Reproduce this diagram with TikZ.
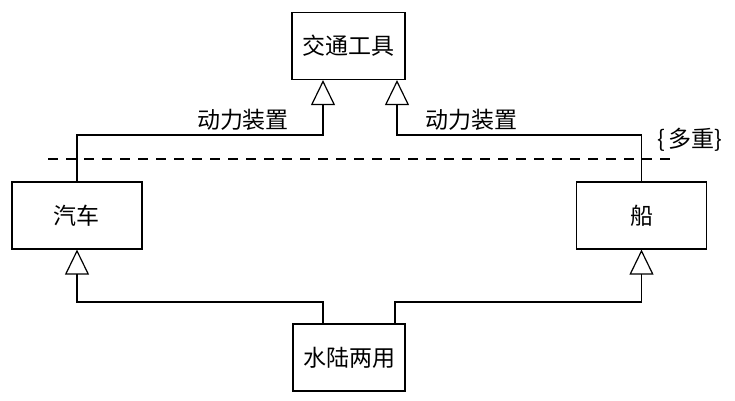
\documentclass[tikz,border=0pt]{standalone}
\usepackage{fontspec}
\newfontfamily\cjk{Noto Sans CJK SC}
\usetikzlibrary{arrows.meta}

\begin{document}
\begin{tikzpicture}[
  x=0.5pt, y=-0.5pt,
  font=\cjk\fontsize{11.5}{13.5}\selectfont,
  box/.style={draw, rectangle, line width=0.6pt, minimum height=33.5pt, align=center, fill=white},
  inherit/.style={line width=0.6pt, -{Triangle[open, length=12.5pt, width=12pt]}},
  link/.style={line width=0.6pt}
]
\useasboundingbox (0,0) rectangle (735,401);

\node[box, minimum width=56.5pt] (vehicle) at (348.5,46) {交通工具};
\node[box, minimum width=65pt] (car) at (77,215.5) {汽车};
\node[box, minimum width=65pt] (boat) at (641.5,215.5) {船};
\node[box, minimum width=56pt] (amphi) at (349,357.5) {水陆两用};

\coordinate (lbend) at (323,135);
\coordinate (rbend) at (397,135);
\coordinate (lfoot) at (323,302);
\coordinate (rfoot) at (395,302);

% upper level: power source
\draw[inherit] (car.north) |- (lbend) -- (lbend |- vehicle.south);
\draw[inherit] (boat.north) |- (rbend) -- (rbend |- vehicle.south);
\node (lpower) at (243,120) {动力装置};
\node (rpower) at (471,120) {动力装置};

% lower level
\draw[inherit] (lfoot |- amphi.north) -- (lfoot) -| (car.south);
\draw[inherit] (rfoot |- amphi.north) -- (rfoot) -| (boat.south);

\coordinate (dashl) at (48,159);
\coordinate (dashr) at (673,159);
\draw[link, dash pattern=on 5pt off 4pt] (dashl) -- (dashr);
\node (multi) at (690,140) {\{\,多重\}};
\end{tikzpicture}
\end{document}
